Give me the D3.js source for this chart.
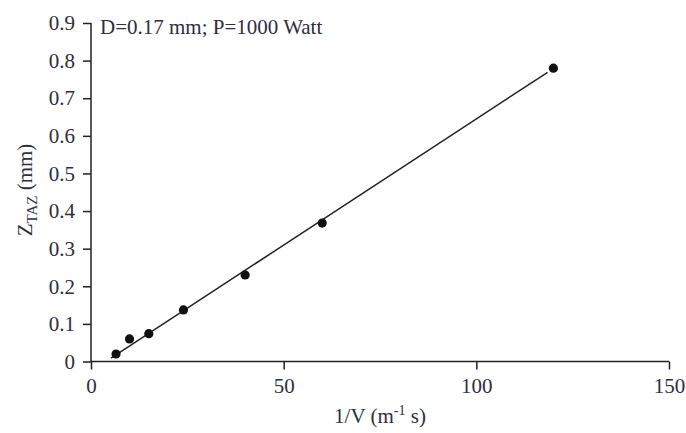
<!DOCTYPE html>
<html>
<head>
<meta charset="utf-8">
<script src="https://cdn.jsdelivr.net/npm/d3@7"></script>
<style>
  body { margin: 0; background: #fff; }
  text { font-family: "Liberation Serif", "Times New Roman", serif; fill: #2e2e3e; }
</style>
</head>
<body>
<div id="chart"></div>
<script>
// measured points (1/V vs Z_TAZ)
var invV = [6.5, 10, 15, 24, 40, 60, 120];
var zTaz = [0.02, 0.06, 0.074, 0.137, 0.23, 0.368, 0.78];

// fitted line end points
var fitX = [5.2, 118.5];
var fitY = [0.009, 0.769];

var xTicks = [0, 50, 100, 150];
var yTicks = [0, 0.1, 0.2, 0.3, 0.4, 0.5, 0.6, 0.7, 0.8, 0.9];

var W = 686, H = 433;
var margin = { top: 23, right: 16, bottom: 71, left: 91 },
  width = W - margin.left - margin.right,
  height = H - margin.top - margin.bottom;

var svg = d3.select("#chart")
  .append("svg")
  .attr("width", W)
  .attr("height", H)
  .append("g")
  .attr("transform", "translate(" + margin.left + "," + margin.top + ")");

var x = d3.scaleLinear().domain([0, 150]).range([0, 578]);
var y = d3.scaleLinear().domain([0, 0.9]).range([height - 0.5, 0]);

// axes
var xAxis = svg.append("g")
  .attr("transform", "translate(0," + y(0) + ")")
  .call(d3.axisBottom(x).tickValues(xTicks).tickSize(8).tickPadding(9)
    .tickFormat(d3.format("d")));
var yAxis = svg.append("g")
  .call(d3.axisLeft(y).tickValues(yTicks).tickSize(8).tickPadding(8)
    .tickFormat(function(d) { return d === 0 ? "0" : d3.format(".1f")(d); }));

[xAxis, yAxis].forEach(function(a) {
  a.select(".domain").attr("stroke", "#222").attr("stroke-width", 1.5);
  a.selectAll(".tick line").attr("stroke", "#222").attr("stroke-width", 1.5);
  a.selectAll(".tick text").style("font-size", "21px").attr("fill", "#2e2e3e");
});
// remove outer ticks of the domain path
xAxis.select(".domain").attr("d", "M0,0H" + x(150));
yAxis.select(".domain").attr("d", "M0," + y(0) + "V" + y(0.9));

// fit line
svg.append("line")
  .attr("x1", x(fitX[0])).attr("y1", y(fitY[0]))
  .attr("x2", x(fitX[1])).attr("y2", y(fitY[1]))
  .attr("stroke", "#222")
  .attr("stroke-width", 1.5);

// data points
svg.append("g")
  .selectAll("circle")
  .data(invV)
  .enter()
  .append("circle")
  .attr("cx", function(d) { return x(d); })
  .attr("cy", function(d, i) { return y(zTaz[i]); })
  .attr("r", 4.6)
  .attr("fill", "#111");

// annotation
svg.append("text")
  .attr("x", 9)
  .attr("y", 11)
  .style("font-size", "21px")
  .text("D=0.17 mm; P=1000 Watt");

// x axis label
var xl = svg.append("text")
  .attr("text-anchor", "middle")
  .attr("x", x(75))
  .attr("y", height + 61)
  .style("font-size", "21px");
xl.append("tspan").text("1/V (m");
xl.append("tspan").attr("dy", -8).style("font-size", "14px").text("-1");
xl.append("tspan").attr("dy", 8).text(" s)");

// y axis label
var yl = svg.append("text")
  .attr("text-anchor", "middle")
  .attr("transform", "translate(-59," + (190 - margin.top) + ")rotate(-90)")
  .style("font-size", "21px");
yl.append("tspan").text("Z");
yl.append("tspan").attr("dy", 5).style("font-size", "15px").text("TAZ");
yl.append("tspan").attr("dy", -5).text(" (mm)");
</script>
</body>
</html>
